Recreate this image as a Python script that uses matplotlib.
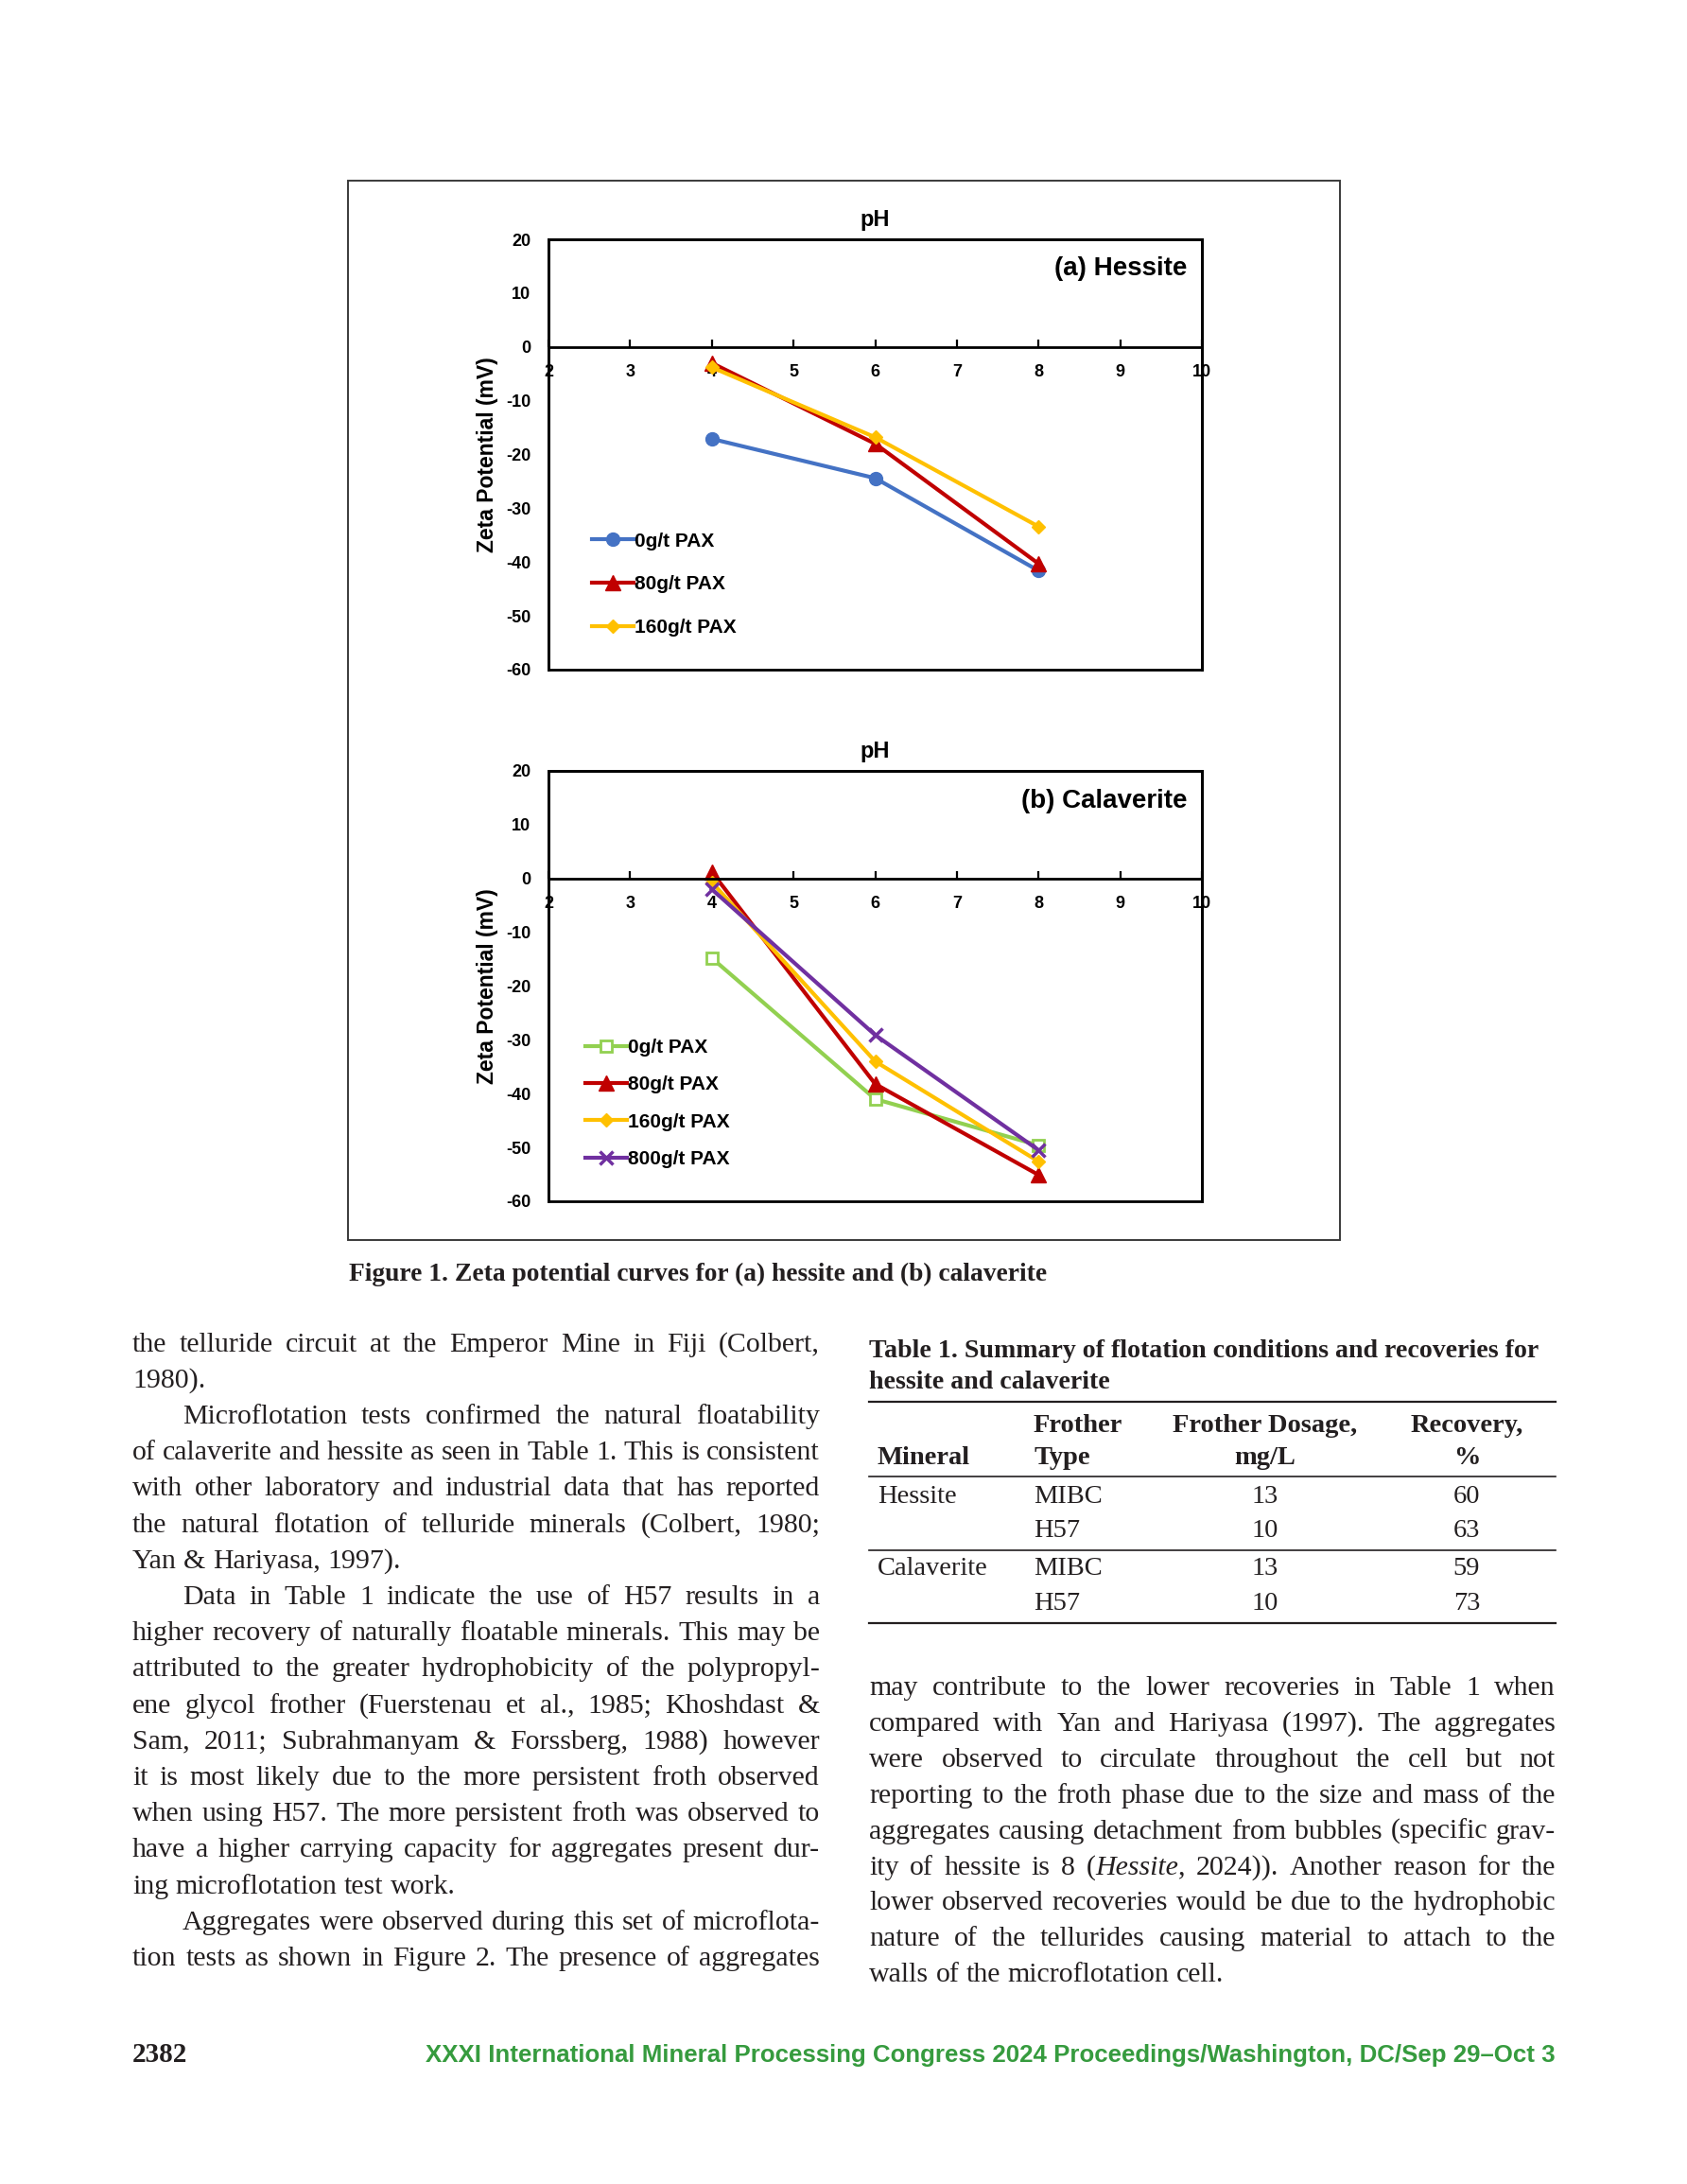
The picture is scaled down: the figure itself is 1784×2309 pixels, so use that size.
import matplotlib.pyplot as plt
from matplotlib.patches import Rectangle
from matplotlib.lines import Line2D

plt.rcParams["axes.unicode_minus"] = False

# ---- data -------------------------------------------------------------
ph = [4, 6, 8]

hessite_labels = ["0g/t PAX", "80g/t PAX", "160g/t PAX"]
hessite_0 = [-17.1, -24.4, -41.6]
hessite_80 = [-3.0, -18.0, -40.3]
hessite_160 = [-3.8, -16.8, -33.4]

calav_labels = ["0g/t PAX", "80g/t PAX", "160g/t PAX", "800g/t PAX"]
calav_0 = [-14.8, -41.0, -49.6]
calav_80 = [1.2, -38.2, -55.1]
calav_160 = [-0.7, -34.0, -52.6]
calav_800 = [-2.0, -29.1, -50.5]

x_ticks = [2, 3, 4, 5, 6, 7, 8, 9, 10]
y_ticks = [-60, -50, -40, -30, -20, -10, 0, 10, 20]

table_header1 = ["", "Frother", "Frother Dosage,", "Recovery,"]
table_header2 = ["Mineral", "Type", "mg/L", "%"]
table_rows = [["Hessite", "MIBC", "13", "60"],
              ["", "H57", "10", "63"],
              ["Calaverite", "MIBC", "13", "59"],
              ["", "H57", "10", "73"]]

left_col = [
    ("the telluride circuit at the Emperor Mine in Fiji (Colbert,", False, True),
    ("1980).", False, False),
    ("Microflotation tests confirmed the natural floatability", True, True),
    ("of calaverite and hessite as seen in Table 1. This is consistent", False, True),
    ("with other laboratory and industrial data that has reported", False, True),
    ("the natural flotation of telluride minerals (Colbert, 1980;", False, True),
    ("Yan & Hariyasa, 1997).", False, False),
    ("Data in Table 1 indicate the use of H57 results in a", True, True),
    ("higher recovery of naturally floatable minerals. This may be", False, True),
    ("attributed to the greater hydrophobicity of the polypropyl-", False, True),
    ("ene glycol frother (Fuerstenau et al., 1985; Khoshdast &", False, True),
    ("Sam, 2011; Subrahmanyam & Forssberg, 1988) however", False, True),
    ("it is most likely due to the more persistent froth observed", False, True),
    ("when using H57. The more persistent froth was observed to", False, True),
    ("have a higher carrying capacity for aggregates present dur-", False, True),
    ("ing microflotation test work.", False, False),
    ("Aggregates were observed during this set of microflota-", True, True),
    ("tion tests as shown in Figure 2. The presence of aggregates", False, True),
]
right_col = [
    ("may contribute to the lower recoveries in Table 1 when", False, True),
    ("compared with Yan and Hariyasa (1997). The aggregates", False, True),
    ("were observed to circulate throughout the cell but not", False, True),
    ("reporting to the froth phase due to the size and mass of the", False, True),
    ("aggregates causing detachment from bubbles (specific grav-", False, True),
    ("ity of hessite is 8 (_Hessite_, 2024)). Another reason for the", False, True),
    ("lower observed recoveries would be due to the hydrophobic", False, True),
    ("nature of the tellurides causing material to attach to the", False, True),
    ("walls of the microflotation cell.", False, False),
]

# ---- page -------------------------------------------------------------
W, H = 1784, 2309
fig = plt.figure(figsize=(W / 100, H / 100), dpi=100, facecolor="white")
rend = fig.canvas.get_renderer()

SERIF = "Liberation Serif"
SANS = "Liberation Sans"
INK = "#231f20"
BODY = 21.5
TABLE = 20.5


def fx(x):
    return x / W


def fy(y):
    return 1 - y / H


def put(x, y, s, **kw):
    return fig.text(fx(x), fy(y), s, va="baseline", **kw)


def fit(x, y, s, width, **kw):
    t = put(x, y, s, fontsize=20, **kw)
    w = t.get_window_extent(rend).width
    t.set_fontsize(20 * width / w)
    return t


def draw_line(line, x0, x1, yb, justify):
    words = []
    for w in line.split():
        parts = []
        for i, seg in enumerate(w.split("_")):
            if seg == "":
                continue
            t = put(0, yb, seg, fontsize=BODY, family=SERIF, color=INK,
                    style="italic" if i % 2 else "normal")
            parts.append((t, t.get_window_extent(rend).width))
        words.append(parts)
    widths = [sum(p[1] for p in parts) for parts in words]
    if justify and len(words) > 1:
        gap = (x1 - x0 - sum(widths)) / (len(words) - 1)
    else:
        gap = 0.25 * BODY * 100 / 72
    x = x0
    for parts in words:
        for t, ww in parts:
            t.set_x(fx(x))
            x += ww
        x += gap


for i, (line, indent, just) in enumerate(left_col):
    draw_line(line, 140 + (53 if indent else 0), 867, 1428.6 + i * 38.2, just)
for i, (line, indent, just) in enumerate(right_col):
    draw_line(line, 919, 1645, 1792 + i * 37.9, just)

# chart frame and caption
fig.add_artist(Rectangle((fx(368), fy(1311)), fx(1417) - fx(368), fy(191) - fy(1311),
                         transform=fig.transFigure, fill=False, edgecolor="#3a3a3a", lw=1.4))
fit(369, 1354, "Figure 1. Zeta potential curves for (a) hessite and (b) calaverite", 739,
    family=SERIF, weight="bold", color=INK)

# table
fit(919, 1434.6, "Table 1. Summary of flotation conditions and recoveries for", 707,
    family=SERIF, weight="bold", color=INK)
put(919, 1468.5, "hessite and calaverite", fontsize=fig.texts[-1].get_fontsize(),
    family=SERIF, weight="bold", color=INK)
for yy, lw in [(1482, 1.6), (1561, 1.2), (1638.7, 1.2), (1716, 1.6)]:
    fig.add_artist(Line2D([fx(919), fx(1645)], [fy(yy), fy(yy)], color=INK, lw=lw,
                          transform=fig.transFigure))
col_x = [928, 1093, 1338, 1551]
col_ha = ["left", "left", "center", "center"]
for row, yb in [(table_header1, 1513.6), (table_header2, 1547.5)]:
    for s, x, ha in zip(row, col_x, col_ha):
        put(x, yb, s, fontsize=TABLE, family=SERIF, weight="bold", color=INK, ha=ha)
for row, yb in zip(table_rows, [1588.7, 1625, 1665, 1701.7]):
    for s, x, ha in zip(row, col_x, col_ha):
        put(x, yb, s, fontsize=TABLE, family=SERIF, color=INK, ha=ha)

# footer
put(140, 2180, "2382", fontsize=21, family=SERIF, weight="bold", color=INK)
t = fit(0, 2180, "XXXI International Mineral Processing Congress 2024 Proceedings/Washington, DC/Sep 29\u2013Oct 3",
        1194, family=SANS, weight="bold", color="#369b3e")
t.set_x(fx(1645))
t.set_ha("right")

# ---- charts -----------------------------------------------------------
BLUE, RED, GOLD, GREEN, PURPLE = "#4472C4", "#C00000", "#FFC000", "#92D050", "#7030A0"


def style_axes(ax, tag, label_y):
    ax.set_xlim(2, 10)
    ax.set_ylim(-60, 20)
    ax.set_xticks(x_ticks)
    ax.set_yticks(y_ticks)
    ax.spines["bottom"].set_position(("data", 0))
    for sp in ax.spines.values():
        sp.set_linewidth(2)
    ax.add_patch(Rectangle((0, 0), 1, 1, transform=ax.transAxes, fill=False,
                           lw=2, edgecolor="black", clip_on=False))
    ax.tick_params(axis="x", direction="in", length=6, width=1.6, pad=13)
    ax.tick_params(axis="y", length=0, pad=13.5)
    for lab in ax.get_xticklabels() + ax.get_yticklabels():
        lab.set_fontfamily(SANS)
        lab.set_fontweight("bold")
        lab.set_fontsize(13)
    ax.set_title("pH", fontsize=17, fontweight="bold", family=SANS, pad=10)
    ax.set_ylabel("Zeta Potential (mV)", fontsize=16.5, fontweight="bold", family=SANS)
    ax.yaxis.set_label_coords(-0.077, 0.5)
    ax.text(0.977, label_y, tag, transform=ax.transAxes, ha="right", va="center",
            fontsize=20, fontweight="bold", family=SANS)


axa = fig.add_axes([fx(580), fy(708), fx(1271) - fx(580), fy(253) - fy(708)])
axa.plot(ph, hessite_0, color=BLUE, lw=3, marker="o", ms=10, label=hessite_labels[0])
axa.plot(ph, hessite_80, color=RED, lw=3, marker="^", ms=11, label=hessite_labels[1])
axa.plot(ph, hessite_160, color=GOLD, lw=3, marker="D", ms=7, label=hessite_labels[2])
style_axes(axa, "(a) Hessite", 0.931)
axa.legend(loc="center left", bbox_to_anchor=(0.0666, 0.198), frameon=False, borderpad=0,
           borderaxespad=0, handlelength=2.1, handletextpad=0.05, labelspacing=1.28,
           prop=dict(family=SANS, weight="bold", size=15))

axb = fig.add_axes([fx(580), fy(1270), fx(1271) - fx(580), fy(815) - fy(1270)])
axb.plot(ph, calav_0, color=GREEN, lw=3, marker="s", ms=8, mfc="white", mec=GREEN, mew=2,
         label=calav_labels[0])
axb.plot(ph, calav_80, color=RED, lw=3, marker="^", ms=11, label=calav_labels[1])
axb.plot(ph, calav_160, color=GOLD, lw=3, marker="D", ms=7, label=calav_labels[2])
axb.plot(ph, calav_800, color=PURPLE, lw=3, marker="x", ms=10, mew=2.5, label=calav_labels[3])
style_axes(axb, "(b) Calaverite", 0.930)
axb.legend(loc="center left", bbox_to_anchor=(0.0564, 0.2275), frameon=False, borderpad=0,
           borderaxespad=0, handlelength=2.1, handletextpad=0.05, labelspacing=0.98,
           prop=dict(family=SANS, weight="bold", size=15))

fig.savefig("out.png", dpi=100, facecolor="white")
